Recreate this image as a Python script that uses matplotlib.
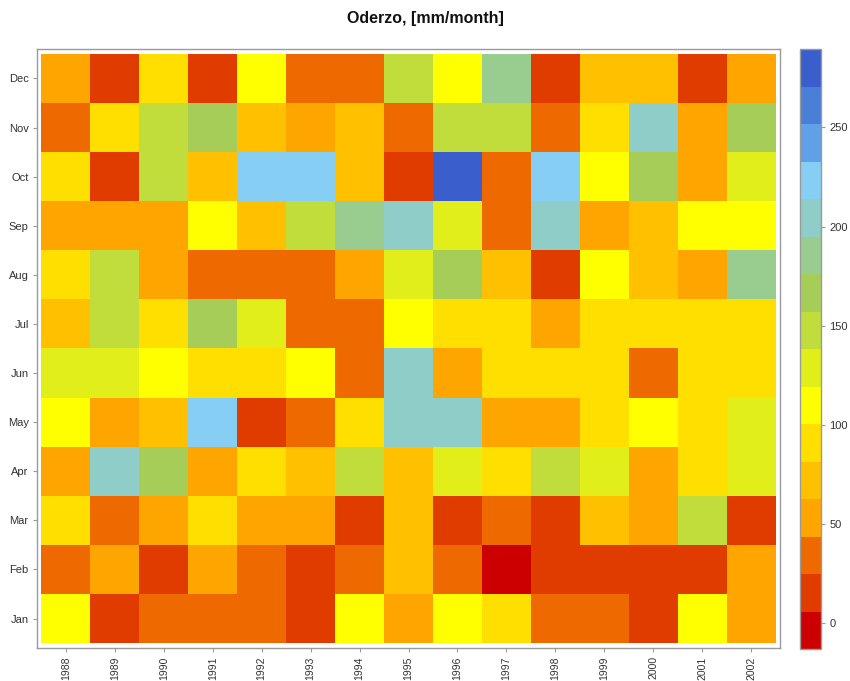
import numpy as np
import matplotlib
matplotlib.use("Agg")
import matplotlib.pyplot as plt
from matplotlib.colors import ListedColormap, BoundaryNorm
from matplotlib.cm import ScalarMappable

plt.rcParams['font.family'] = ['Liberation Sans', 'DejaVu Sans']

# Monthly precipitation at Oderzo, mm/month, one list per month (1988 -> 2002)
years = ["1988", "1989", "1990", "1991", "1992", "1993", "1994", "1995",
         "1996", "1997", "1998", "1999", "2000", "2001", "2002"]
months = ["Jan", "Feb", "Mar", "Apr", "May", "Jun",
          "Jul", "Aug", "Sep", "Oct", "Nov", "Dec"]

jan = [110, 15, 34, 34, 34, 15, 110, 53, 110, 91, 34, 34, 15, 110, 53]
feb = [34, 53, 15, 53, 34, 15, 34, 72, 34, 5.5, 15, 15, 15, 15, 53]
mar = [91, 34, 53, 91, 53, 53, 15, 72, 15, 34, 15, 72, 53, 148, 15]
apr = [53, 204, 166, 53, 91, 72, 148, 72, 129, 91, 148, 129, 53, 91, 129]
may = [110, 53, 72, 223, 15, 34, 91, 204, 204, 53, 53, 91, 110, 91, 129]
jun = [129, 129, 110, 91, 91, 110, 34, 204, 53, 91, 91, 91, 34, 91, 91]
jul = [72, 148, 91, 166, 129, 34, 34, 110, 91, 91, 53, 91, 91, 91, 91]
aug = [91, 148, 53, 34, 34, 34, 53, 129, 166, 72, 15, 110, 72, 53, 185]
sep = [53, 53, 53, 110, 72, 148, 185, 204, 129, 34, 204, 53, 72, 110, 110]
octo = [91, 15, 148, 72, 223, 223, 72, 15, 271, 34, 223, 110, 166, 53, 129]
nov = [34, 91, 148, 166, 72, 53, 72, 34, 148, 148, 34, 91, 204, 53, 166]
dec = [53, 15, 91, 15, 110, 34, 34, 148, 110, 185, 15, 72, 72, 15, 53]

cbar_ticks = [0, 50, 100, 150, 200, 250]

palette = ["#CC0000", "#E03C00", "#EE6A00", "#FFA500", "#FFC000", "#FFDF00",
           "#FFFF00", "#E1EE1A", "#C0DD3C", "#A6CD57", "#99CC8F", "#8FCDC8",
           "#87CEF5", "#60A0E6", "#4A7FD8", "#3A5ECC"]

z = np.array([jan, feb, mar, apr, may, jun, jul, aug, sep, octo, nov, dec])

# levelplot-style breaks: data range padded by 7% on each side
lo, hi = z.min(), z.max()
pad = 0.07 * (hi - lo)
breaks = np.linspace(lo - pad, hi + pad, len(palette) + 1)
cmap = ListedColormap(palette)
norm = BoundaryNorm(breaks, cmap.N)

frame_col = "#9a9a9a"
text_col = "#333333"

fig = plt.figure(figsize=(8.5, 6.81), dpi=100)
W, H = 850, 681

ax = fig.add_axes([37 / W, 1 - 648 / H, (780 - 37) / W, (648 - 49) / H])
xe = np.arange(len(years) + 1) - 0.5
ye = np.arange(len(months) + 1) - 0.5
ax.pcolormesh(xe, ye, z, cmap=cmap, norm=norm)
ax.set_xlim(-0.5 - 0.09, len(years) - 0.5 + 0.09)
ax.set_ylim(-0.5 - 0.1, len(months) - 0.5 + 0.1)

ax.set_xticks(range(len(years)))
ax.set_xticklabels(years, rotation=90, fontsize=7.5)
ax.set_yticks(range(len(months)))
ax.set_yticklabels(months, fontsize=8)
ax.tick_params(length=3, width=0.8, color=frame_col, labelcolor=text_col, pad=3)
for s in ax.spines.values():
    s.set_color(frame_col)
    s.set_linewidth(1.0)

# colour key on the right
cax = fig.add_axes([800 / W, 1 - 649 / H, 21 / W, 600 / H])
cb = fig.colorbar(ScalarMappable(norm=norm, cmap=cmap), cax=cax,
                  boundaries=breaks, spacing="proportional", ticks=cbar_ticks)
cb.minorticks_off()
cb.outline.set_edgecolor(frame_col)
cb.outline.set_linewidth(1.0)
cax.tick_params(length=3, width=0.8, color=frame_col, labelcolor=text_col,
                labelsize=8, pad=3)

fig.text(0.5, 1 - 18 / H, "Oderzo, [mm/month]", ha="center", va="center",
         fontsize=11.5, fontweight="bold", color="#111111")

fig.savefig("out.png", dpi=100)
